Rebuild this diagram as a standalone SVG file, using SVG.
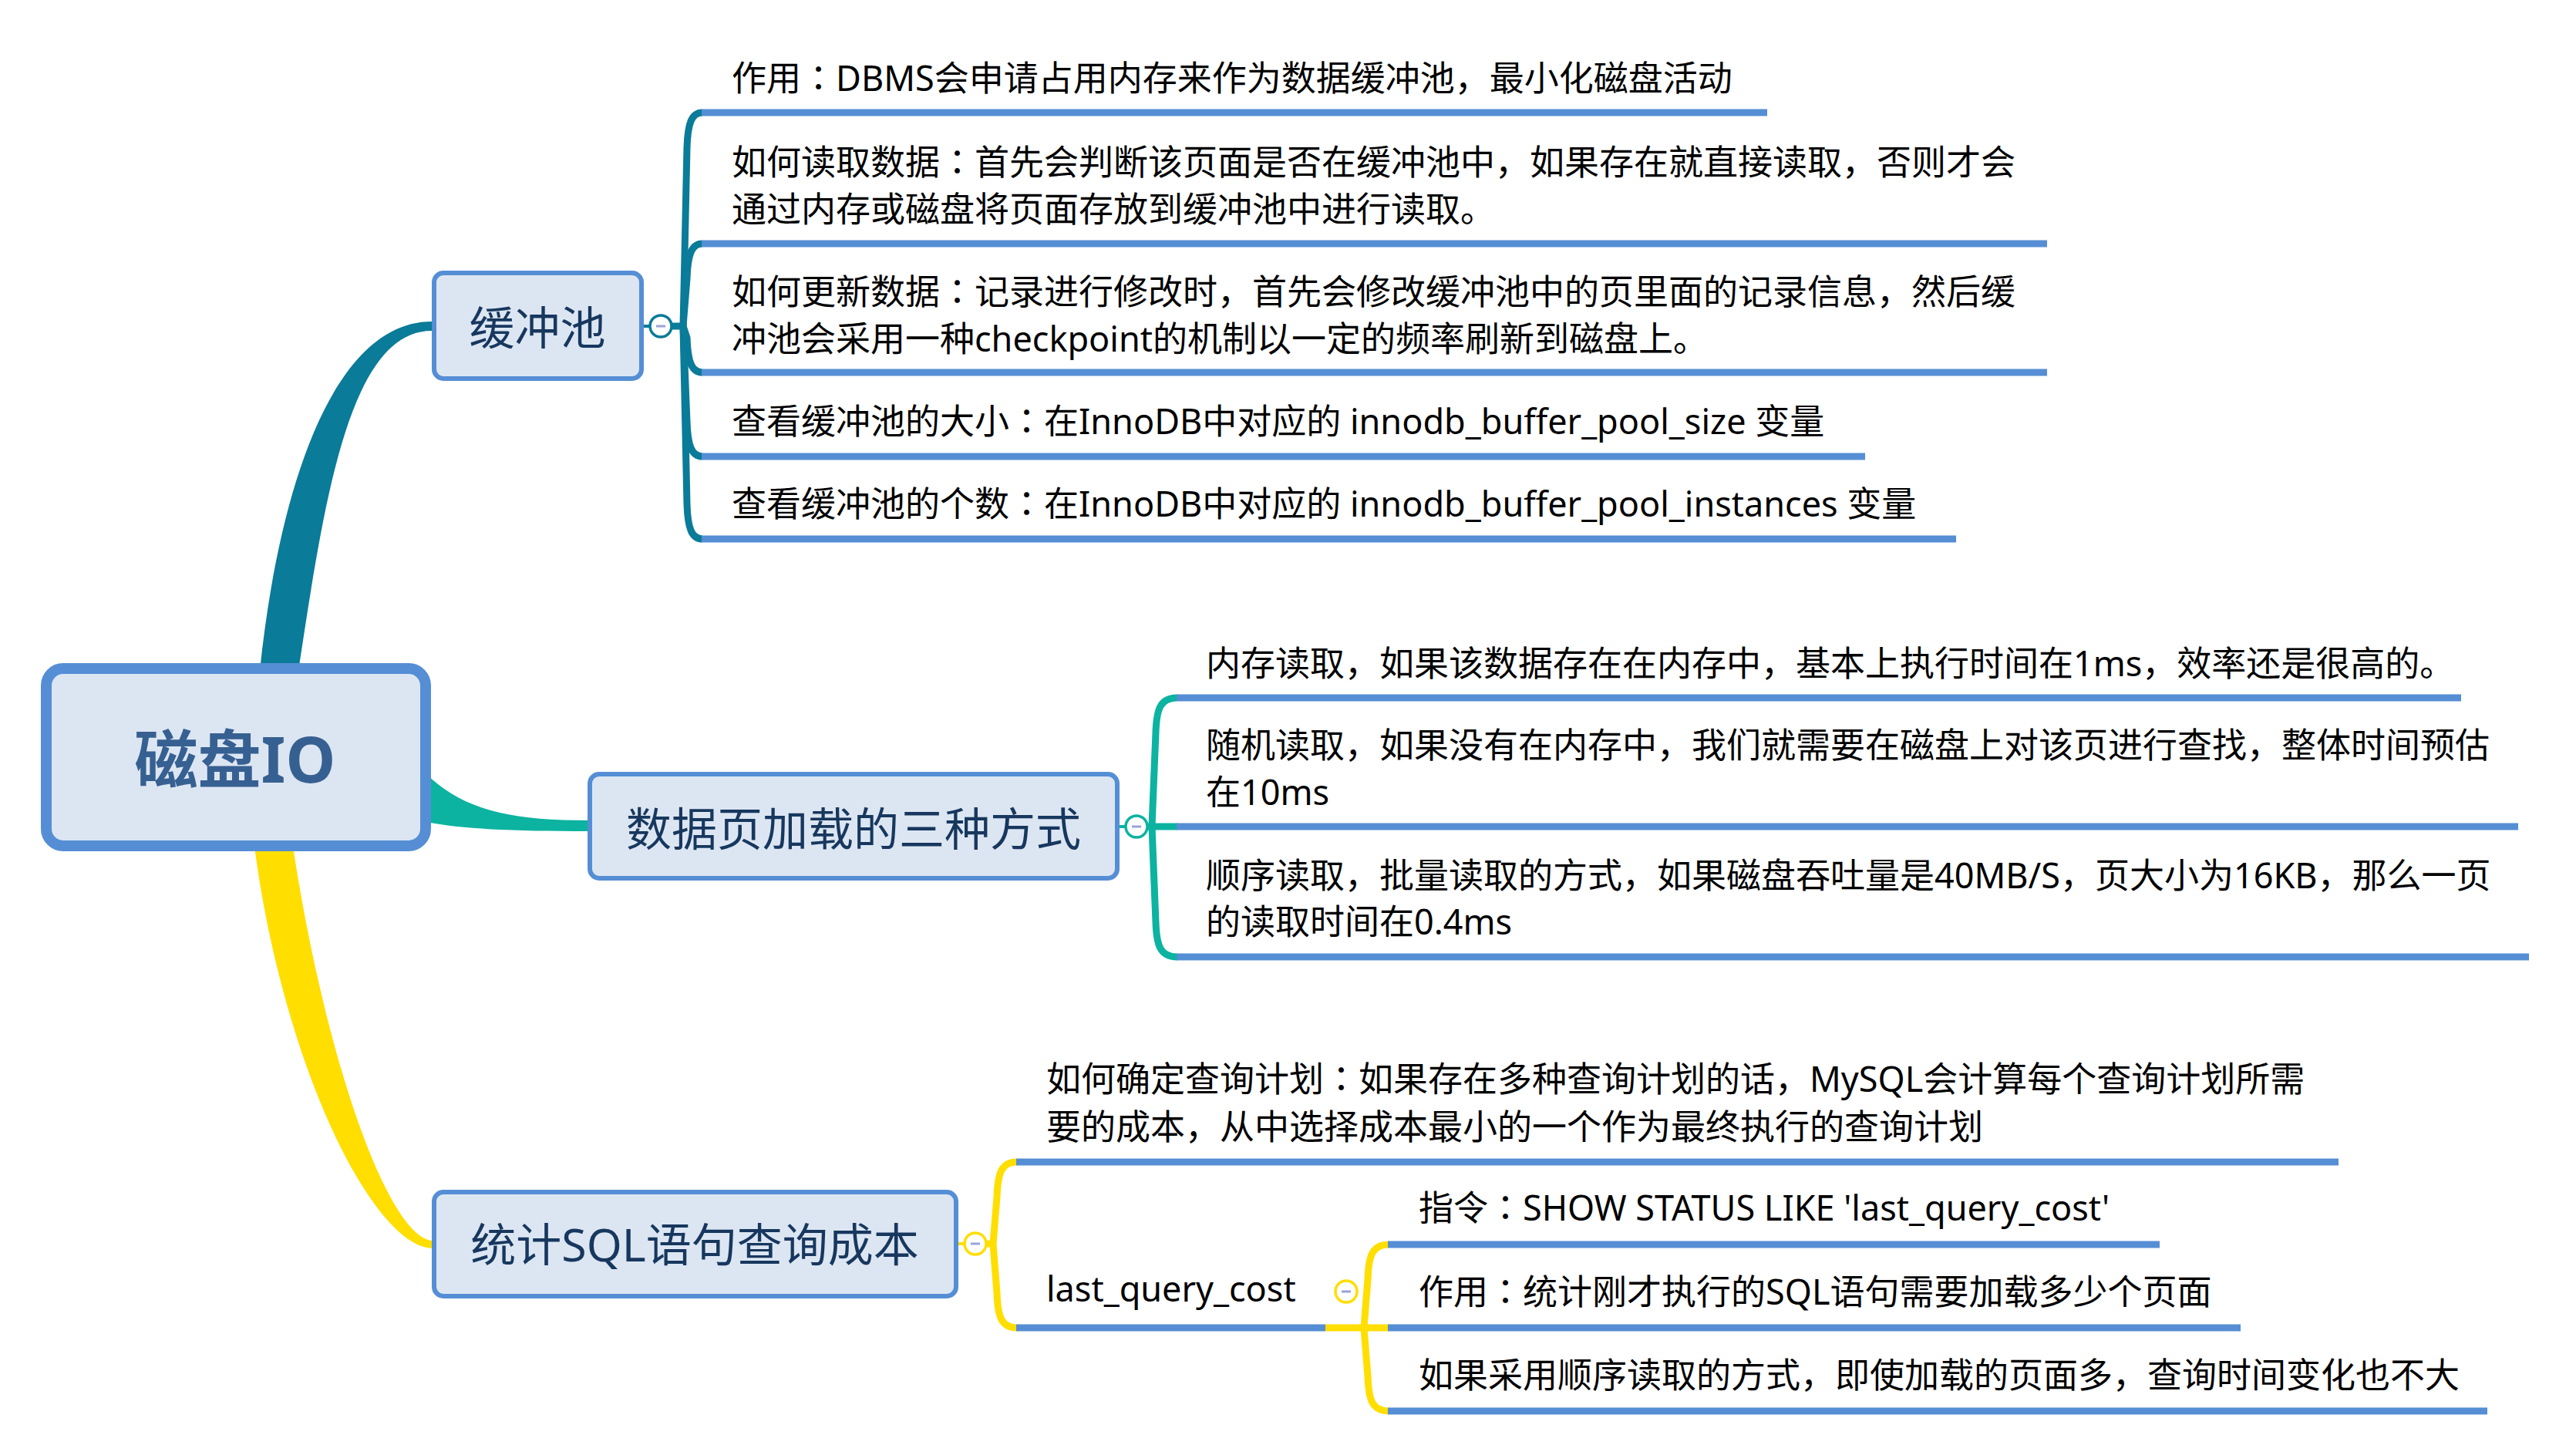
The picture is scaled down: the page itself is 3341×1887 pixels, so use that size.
<svg xmlns="http://www.w3.org/2000/svg" width="3341" height="1887" viewBox="0 0 3341 1887">
<style>
.t{font-family:"Noto Sans","Noto Sans CJK SC",sans-serif;font-size:45px;fill:#000}
.p{font-family:"Noto Sans CJK JP","Noto Sans CJK SC",sans-serif}
.nt{font-family:"Noto Sans","Noto Sans CJK SC",sans-serif;font-size:59px;fill:#17375E;text-anchor:middle}
.rt{font-family:"Noto Sans","Noto Sans CJK SC",sans-serif;font-size:82px;font-weight:700;fill:#376092;text-anchor:middle}
.box{fill:#DCE6F2;stroke:#558ED5;stroke-width:6}
.ul{stroke:#558ED5;stroke-width:9;fill:none}
.c1{stroke:#0A7B98;fill:none;stroke-width:9}
.c2{stroke:#0CB3A0;fill:none;stroke-width:9}
.c3{stroke:#FFDE00;fill:none;stroke-width:9}
.cb{fill:#fff;stroke-width:3.5}
.mn{stroke:#9AA3D8;stroke-width:3}
</style>
<rect width="3341" height="1887" fill="#fff"/>
<g id="connectors">
  <path d="M337,870 C360,646 428,417 560,417 L560,429 C452,429 420,654 387,870 Z" fill="#0A7B98"/>
  <path d="M552,1003 C600,1050 660,1064 764,1064 L764,1078 C660,1078 600,1075 552,1066 Z" fill="#0CB3A0"/>
  <path d="M330,1098 C368,1385 485,1619 562,1619 L562,1609 C505,1609 422,1375 380,1098 Z" fill="#FFDE00"/>
  <g class="c1">
    <path d="M835,423 H845" stroke-width="4"/>
    <path d="M870,423 H888"/>
    <path d="M886,423 L891,191 C892,160 897,146 911,146"/>
    <path d="M886,423 L891,361 C892,330 897,316 911,316"/>
    <path d="M886,423 L891,438 C892,469 897,483 911,483"/>
    <path d="M886,423 L891,547 C892,578 897,592 911,592"/>
    <path d="M886,423 L891,654 C892,685 897,699 911,699"/>
  </g>
  <g class="c2">
    <path d="M1451,1072 H1461" stroke-width="4"/>
    <path d="M1487,1072 H1527"/>
    <path d="M1494,1072 L1499,950 C1500,919 1505,905 1527,905"/>
    <path d="M1494,1072 L1499,1196 C1500,1227 1505,1241 1527,1241"/>
  </g>
  <g class="c3">
    <path d="M1242,1613 H1252" stroke-width="4"/>
    <path d="M1278,1613 H1290"/>
    <path d="M1288,1613 L1293,1552 C1294,1521 1299,1507 1319,1507"/>
    <path d="M1288,1613 L1293,1677 C1294,1708 1299,1722 1319,1722"/>
    <path d="M1719,1722 H1801"/>
    <path d="M1769,1722 L1774,1659 C1775,1628 1780,1614 1801,1614"/>
    <path d="M1769,1722 L1774,1785 C1775,1816 1780,1830 1801,1830"/>
  </g>
</g>
<g id="root">
  <rect x="60" y="867" width="492" height="230" rx="22" fill="#DCE6F2" stroke="#558ED5" stroke-width="14"/>
  <text class="rt" x="305" y="1015">磁盘IO</text>
</g>
<g id="n-buffer">
  <rect class="box" x="563" y="354" width="269" height="137" rx="12"/>
  <text class="nt" x="697" y="447">缓冲池</text>
  <circle class="cb" cx="857" cy="423" r="14" stroke="#0A7B98"/>
  <line class="mn" x1="851" y1="423" x2="863" y2="423"/>
</g>
<g id="n-buffer-1">
  <text class="t" x="949" y="118">作用<tspan class="p">：</tspan>DBMS会申请占用内存来作为数据缓冲池，最小化磁盘活动</text>
  <line class="ul" x1="910" y1="146" x2="2292" y2="146"/>
</g>
<g id="n-buffer-2">
  <text class="t" x="949" y="227">如何读取数据<tspan class="p">：</tspan>首先会判断该页面是否在缓冲池中，如果存在就直接读取，否则才会</text>
  <text class="t" x="949" y="288">通过内存或磁盘将页面存放到缓冲池中进行读取。</text>
  <line class="ul" x1="910" y1="316" x2="2655" y2="316"/>
</g>
<g id="n-buffer-3">
  <text class="t" x="949" y="395">如何更新数据<tspan class="p">：</tspan>记录进行修改时，首先会修改缓冲池中的页里面的记录信息，然后缓</text>
  <text class="t" x="949" y="456">冲池会采用一种checkpoint的机制以一定的频率刷新到磁盘上。</text>
  <line class="ul" x1="910" y1="483" x2="2655" y2="483"/>
</g>
<g id="n-buffer-4">
  <text class="t" x="949" y="563">查看缓冲池的大小<tspan class="p">：</tspan>在InnoDB中对应的 innodb_buffer_pool_size 变量</text>
  <line class="ul" x1="910" y1="592" x2="2419" y2="592"/>
</g>
<g id="n-buffer-5">
  <text class="t" x="949" y="670">查看缓冲池的个数<tspan class="p">：</tspan>在InnoDB中对应的 innodb_buffer_pool_instances 变量</text>
  <line class="ul" x1="910" y1="699" x2="2537" y2="699"/>
</g>
<g id="n-load">
  <rect class="box" x="765" y="1004" width="684" height="135" rx="12"/>
  <text class="nt" x="1107" y="1097">数据页加载的三种方式</text>
  <circle class="cb" cx="1474" cy="1072" r="14" stroke="#0CB3A0"/>
  <line class="mn" x1="1468" y1="1072" x2="1480" y2="1072"/>
</g>
<g id="n-load-1">
  <text class="t" x="1564" y="877">内存读取，如果该数据存在在内存中，基本上执行时间在1ms，效率还是很高的。</text>
  <line class="ul" x1="1526" y1="905" x2="3192" y2="905"/>
</g>
<g id="n-load-2">
  <text class="t" x="1564" y="983">随机读取，如果没有在内存中，我们就需要在磁盘上对该页进行查找，整体时间预估</text>
  <text class="t" x="1564" y="1044">在10ms</text>
  <line class="ul" x1="1526" y1="1072" x2="3266" y2="1072"/>
</g>
<g id="n-load-3">
  <text class="t" x="1564" y="1152">顺序读取，批量读取的方式，如果磁盘吞吐量是40MB/S，页大小为16KB，那么一页</text>
  <text class="t" x="1564" y="1212">的读取时间在0.4ms</text>
  <line class="ul" x1="1526" y1="1241" x2="3280" y2="1241"/>
</g>
<g id="n-sql">
  <rect class="box" x="563" y="1546" width="677" height="135" rx="12"/>
  <text class="nt" x="901" y="1636">统计SQL语句查询成本</text>
  <circle class="cb" cx="1265" cy="1613" r="14" stroke="#FFDE00"/>
  <line class="mn" x1="1259" y1="1613" x2="1271" y2="1613"/>
</g>
<g id="n-sql-1">
  <text class="t" x="1357" y="1416">如何确定查询计划<tspan class="p">：</tspan>如果存在多种查询计划的话，MySQL会计算每个查询计划所需</text>
  <text class="t" x="1357" y="1478">要的成本，从中选择成本最小的一个作为最终执行的查询计划</text>
  <line class="ul" x1="1318" y1="1507" x2="3033" y2="1507"/>
</g>
<g id="n-sql-2">
  <text class="t" x="1357" y="1688">last_query_cost</text>
  <line class="ul" x1="1318" y1="1722" x2="1719" y2="1722"/>
  <circle class="cb" cx="1746" cy="1675" r="14" stroke="#FFDE00"/>
  <line class="mn" x1="1740" y1="1675" x2="1752" y2="1675"/>
</g>
<g id="n-lqc-1">
  <text class="t" x="1840" y="1583">指令<tspan class="p">：</tspan>SHOW STATUS LIKE 'last_query_cost'</text>
  <line class="ul" x1="1800" y1="1614" x2="2801" y2="1614"/>
</g>
<g id="n-lqc-2">
  <text class="t" x="1840" y="1692">作用<tspan class="p">：</tspan>统计刚才执行的SQL语句需要加载多少个页面</text>
  <line class="ul" x1="1800" y1="1722" x2="2906" y2="1722"/>
</g>
<g id="n-lqc-3">
  <text class="t" x="1840" y="1800">如果采用顺序读取的方式，即使加载的页面多，查询时间变化也不大</text>
  <line class="ul" x1="1800" y1="1830" x2="3226" y2="1830"/>
</g>
</svg>
